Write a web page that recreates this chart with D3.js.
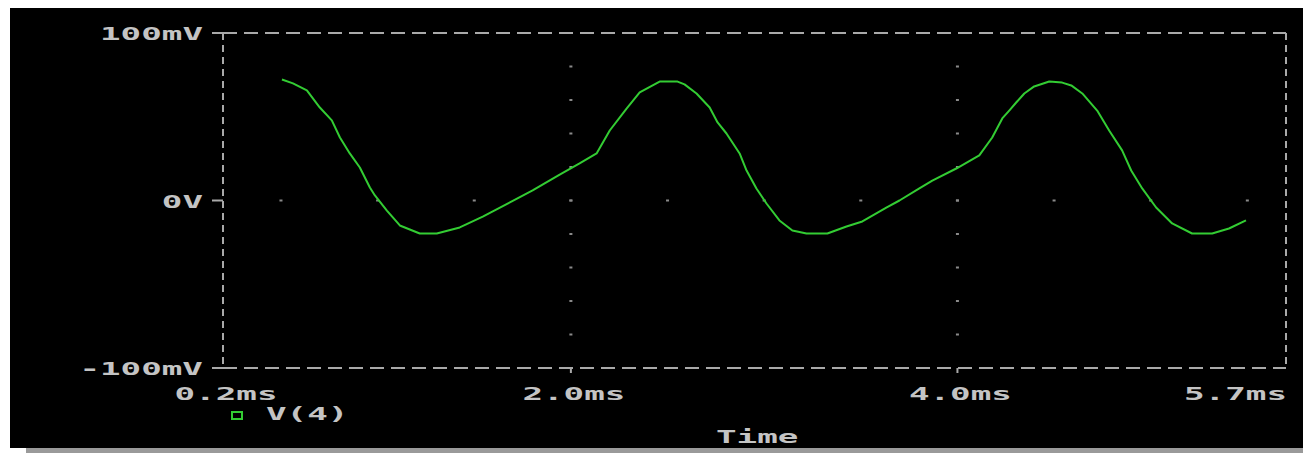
<!DOCTYPE html>
<html>
<head>
<meta charset="utf-8">
<script src="https://cdn.jsdelivr.net/npm/d3@7"></script>
<style>
  html, body { margin: 0; padding: 0; background: #ffffff; }
  svg { display: block; }
  .lbl { font-family: 'DejaVu Sans Mono', monospace; font-weight: bold; font-size: 18px; fill: #c4c4c4; }
</style>
</head>
<body>
<div id="app"></div>
<script>
// V(4) trace (time in ms, voltage in mV)
var timeMs = [0.505, 0.562, 0.634, 0.701, 0.763, 0.805, 0.856, 0.908, 0.960, 0.986,
              1.048, 1.115, 1.218, 1.306, 1.425, 1.544, 1.802, 1.942, 2.045, 2.133,
              2.201, 2.288, 2.356, 2.459, 2.552, 2.588, 2.650, 2.718, 2.759, 2.805,
              2.873, 2.909, 2.960, 3.012, 3.079, 3.146, 3.219, 3.327, 3.426, 3.508,
              3.632, 3.700, 3.803, 3.870, 3.994, 4.113, 4.180, 4.232, 4.268, 4.304,
              4.346, 4.397, 4.475, 4.542, 4.589, 4.646, 4.723, 4.785, 4.852, 4.899,
              4.956, 5.028, 5.111, 5.214, 5.318, 5.405, 5.493];
var voltageMv = [72.2, 69.9, 65.7, 55.5, 47.8, 37.6, 28.1, 19.7, 7.8, 3.0,
                 -6.0, -14.9, -19.7, -19.7, -16.1, -9.6, 6.0, 15.5, 22.1, 28.1,
                 41.8, 54.9, 64.5, 71.0, 71.0, 69.3, 63.9, 55.5, 46.6, 40.0,
                 28.1, 17.9, 7.2, -1.8, -11.9, -17.9, -19.7, -19.7, -15.5, -12.5,
                 -4.2, 0.0, 7.2, 11.9, 19.1, 26.9, 37.6, 49.0, 53.7, 58.5,
                 63.9, 68.1, 71.0, 70.4, 68.7, 63.9, 53.7, 41.8, 29.9, 17.9,
                 7.2, -4.2, -13.7, -19.7, -19.7, -16.7, -11.9];

var yTickValues = [100, 0, -100];
var yTickLabels = ['100mV', '0V', '-100mV'];
var xTickValues = [0.2, 2.0, 4.0, 5.7];
var xTickLabels = ['0.2ms', '2.0ms', '4.0ms', '5.7ms'];
var gridTimes = [2.0, 4.0];
var gridVoltDots = [80, 60, 40, 20, 0, -20, -40, -60, -80];
var zeroLineDots = [0.5, 1.0, 1.5, 2.0, 2.5, 3.0, 3.5, 4.0, 4.5, 5.0, 5.5];
var seriesName = 'V(4)';
var xTitle = 'Time';

var width = 1303, height = 453,
    plotLeft = 223, plotRight = 1286, plotTop = 33, plotBottom = 368,
    charW = 20.6,
    axisGray = '#a9a9a9',
    dotGray = '#8a8a8a',
    traceGreen = '#33cc33';

var svg = d3.select('#app').append('svg')
            .attr('width', width)
            .attr('height', height);

// black screen + gray strip under it
svg.append('rect').attr('x', 10).attr('y', 8).attr('width', width - 10).attr('height', 440).attr('fill', '#000');
svg.append('rect').attr('x', 26).attr('y', 448).attr('width', width - 26).attr('height', 5).attr('fill', '#9a9a9a');

var x = d3.scaleLinear().domain([0.2, 5.7]).range([plotLeft, plotRight]);
var y = d3.scaleLinear().domain([-100, 100]).range([plotBottom, plotTop]);

// dashed frame
var hDash = '14 7', vDash = '7 5';
[[x(0.2), y(100), x(5.7), y(100), hDash],
 [x(0.2), y(-100), x(5.7), y(-100), hDash],
 [x(0.2), y(100), x(0.2), y(-100), vDash],
 [x(5.7), y(100), x(5.7), y(-100), vDash]].forEach(function(s) {
  svg.append('line')
     .attr('x1', s[0]).attr('y1', s[1]).attr('x2', s[2]).attr('y2', s[3])
     .attr('stroke', axisGray)
     .attr('stroke-width', 2)
     .attr('stroke-dasharray', s[4]);
});

// dotted grid
gridTimes.forEach(function(t) {
  svg.selectAll(null).data(gridVoltDots).enter().append('rect')
     .attr('x', x(t) - 1.5).attr('y', function(d) { return y(d) - 1; })
     .attr('width', 3).attr('height', 2)
     .attr('fill', dotGray);
});
svg.selectAll(null).data(zeroLineDots).enter().append('rect')
   .attr('x', function(d) { return x(d) - 1.5; }).attr('y', y(0) - 1)
   .attr('width', 3).attr('height', 2)
   .attr('fill', dotGray);

// y ticks and labels
svg.selectAll(null).data(yTickValues).enter().append('line')
   .attr('x1', plotLeft - 11).attr('x2', plotLeft)
   .attr('y1', function(d) { return y(d); }).attr('y2', function(d) { return y(d); })
   .attr('stroke', axisGray).attr('stroke-width', 2);

svg.selectAll(null).data(yTickLabels).enter().append('text')
   .attr('class', 'lbl')
   .attr('x', function(d) { return 203 - d.length * charW; })
   .attr('y', function(d, i) { return y(yTickValues[i]) + 7; })
   .attr('textLength', function(d) { return d.length * charW; })
   .attr('lengthAdjust', 'spacingAndGlyphs')
   .text(function(d) { return d; });

// x ticks and labels
svg.selectAll(null).data(xTickValues.slice(1, 3)).enter().append('line')
   .attr('x1', function(d) { return x(d); }).attr('x2', function(d) { return x(d); })
   .attr('y1', plotBottom).attr('y2', plotBottom + 5)
   .attr('stroke', axisGray).attr('stroke-width', 2);

svg.selectAll(null).data(xTickLabels).enter().append('text')
   .attr('class', 'lbl')
   .attr('x', function(d, i) {
     var w = d.length * charW;
     return i === xTickLabels.length - 1 ? x(xTickValues[i]) + 1 - w : x(xTickValues[i]) + 3 - w / 2;
   })
   .attr('y', 400)
   .attr('textLength', function(d) { return d.length * charW; })
   .attr('lengthAdjust', 'spacingAndGlyphs')
   .text(function(d) { return d; });

// trace
var line = d3.line()
             .x(function(d) { return x(d[0]); })
             .y(function(d) { return y(d[1]); });

svg.append('path')
   .datum(d3.zip(timeMs, voltageMv))
   .attr('d', line)
   .attr('fill', 'none')
   .attr('stroke', traceGreen)
   .attr('stroke-width', 2)
   .attr('stroke-linejoin', 'round');

// legend
svg.append('rect')
   .attr('x', 232).attr('y', 412).attr('width', 10).attr('height', 7)
   .attr('fill', 'none').attr('stroke', traceGreen).attr('stroke-width', 2);
svg.append('text')
   .attr('class', 'lbl')
   .attr('x', 266).attr('y', 420)
   .attr('textLength', seriesName.length * charW)
   .attr('lengthAdjust', 'spacingAndGlyphs')
   .text(seriesName);

// axis title
svg.append('text')
   .attr('class', 'lbl')
   .attr('x', 716).attr('y', 443)
   .attr('textLength', xTitle.length * charW)
   .attr('lengthAdjust', 'spacingAndGlyphs')
   .text(xTitle);
</script>
</body>
</html>
